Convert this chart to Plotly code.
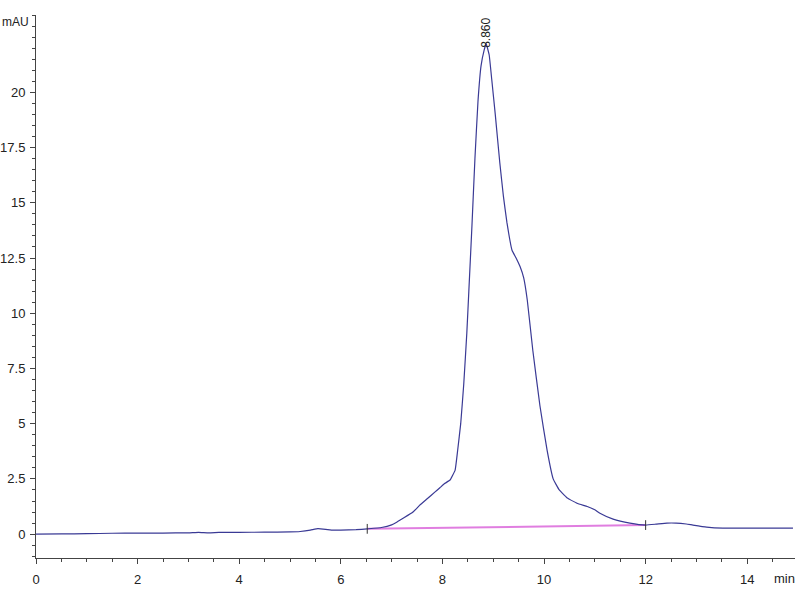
import plotly.graph_objects as go

# Chromatogram signal (retention time in min, absorbance in mAU)
time_min = [0, 0.5, 1.0, 1.5, 2.0, 2.5, 3.0, 3.2, 3.4, 3.6, 4.0, 4.5, 5.0, 5.2, 5.4,
            5.55, 5.7, 5.85, 6.0, 6.3, 6.52, 6.8, 7.0, 7.1, 7.25, 7.42, 7.55, 7.7,
            7.85, 7.95, 8.05, 8.15, 8.25, 8.3, 8.36, 8.42, 8.48, 8.52, 8.58, 8.64,
            8.70, 8.76, 8.82, 8.86, 8.92, 8.97, 9.04, 9.13, 9.20, 9.27, 9.37, 9.45,
            9.53, 9.60, 9.67, 9.78, 9.92, 10.06, 10.18, 10.30, 10.45, 10.65, 10.85,
            11.0, 11.1, 11.36, 11.69, 12.0, 12.2, 12.42, 12.6, 12.8, 12.93, 13.2,
            13.52, 14.0, 14.5, 14.9]
signal_mau = [0, 0.01, 0.02, 0.04, 0.05, 0.05, 0.06, 0.08, 0.06, 0.08, 0.08, 0.09,
              0.1, 0.12, 0.18, 0.25, 0.22, 0.18, 0.18, 0.2, 0.24, 0.3, 0.42, 0.54,
              0.75, 1.0, 1.3, 1.6, 1.9, 2.1, 2.3, 2.45, 2.9, 3.8, 5.0, 6.8, 9.1, 11.0,
              13.9, 17.0, 19.6, 21.2, 21.9, 22.2, 21.7, 20.6, 19.0, 16.8, 15.3, 14.1,
              12.85, 12.5, 12.1, 11.6, 10.6, 8.3, 5.8, 3.8, 2.5, 2.0, 1.65, 1.4, 1.25,
              1.1, 0.95, 0.68, 0.5, 0.41, 0.45, 0.5, 0.5, 0.46, 0.41, 0.32, 0.27,
              0.27, 0.27, 0.27]

# Integration baseline
base_t = [6.52, 12.0]
base_v = [0.24, 0.41]

# Peak annotation
peak_t = [8.86]
peak_v = [22.2]
peak_label = ["8.860"]

y_tickvals = [0, 2.5, 5, 7.5, 10, 12.5, 15, 17.5, 20]
y_ticktext = ["0", "2.5", "5", "7.5", "10", "12.5", "15", "17.5", "20"]
x_tickvals = [0, 2, 4, 6, 8, 10, 12, 14]

FONT = "Liberation Sans, Arial"

fig = go.Figure()
fig.add_trace(go.Scatter(x=base_t, y=base_v, mode="lines",
                         line=dict(color="#e07ee0", width=2), hoverinfo="skip"))
fig.add_trace(go.Scatter(x=time_min, y=signal_mau, mode="lines",
                         line=dict(color="#3a3a95", width=1.2, shape="spline", smoothing=0.3)))
fig.add_trace(go.Scatter(x=base_t, y=base_v, mode="markers",
                         marker=dict(symbol="line-ns", size=7,
                                     line=dict(color="#333333", width=1))))

for t, v, lab in zip(peak_t, peak_v, peak_label):
    fig.add_annotation(x=t, y=v, text=lab, textangle=-90, showarrow=False,
                       yanchor="bottom", xanchor="center", yshift=-6,
                       font=dict(family=FONT, size=12, color="#222222"))

fig.add_annotation(xref="paper", yref="paper", x=-0.047, y=1.0, text="mAU",
                   showarrow=False, xanchor="left", yanchor="middle", yshift=-7,
                   font=dict(family=FONT, size=12, color="#222222"))
fig.add_annotation(xref="paper", yref="paper", x=1.003, y=0, text="min",
                   showarrow=False, xanchor="right", yanchor="middle", yshift=-20,
                   font=dict(family=FONT, size=13, color="#222222"))

axis_common = dict(showgrid=False, zeroline=False, showline=True, linecolor="#444444",
                   linewidth=1, ticks="outside", ticklen=5, tickcolor="#444444",
                   automargin=False,
                   tickfont=dict(family=FONT, size=13, color="#222222"))

fig.update_layout(
    width=800, height=600,
    margin=dict(l=36, r=5, t=15, b=42),
    paper_bgcolor="white", plot_bgcolor="white",
    showlegend=False,
    xaxis=dict(range=[0, 14.94], tickvals=x_tickvals,
               minor=dict(dtick=0.5, tick0=0, ticks="outside", ticklen=3, tickcolor="#444444"),
               ticklabelstandoff=4, **axis_common),
    yaxis=dict(range=[-1.08, 23.5], tickvals=y_tickvals, ticktext=y_ticktext,
               minor=dict(dtick=0.5, tick0=0, ticks="outside", ticklen=3, tickcolor="#444444"),
               ticklabelstandoff=2, **axis_common),
)

fig.write_html("out.html", config={"displayModeBar": False},
               post_script="document.body.style.margin='0';document.body.style.overflow='hidden';")
